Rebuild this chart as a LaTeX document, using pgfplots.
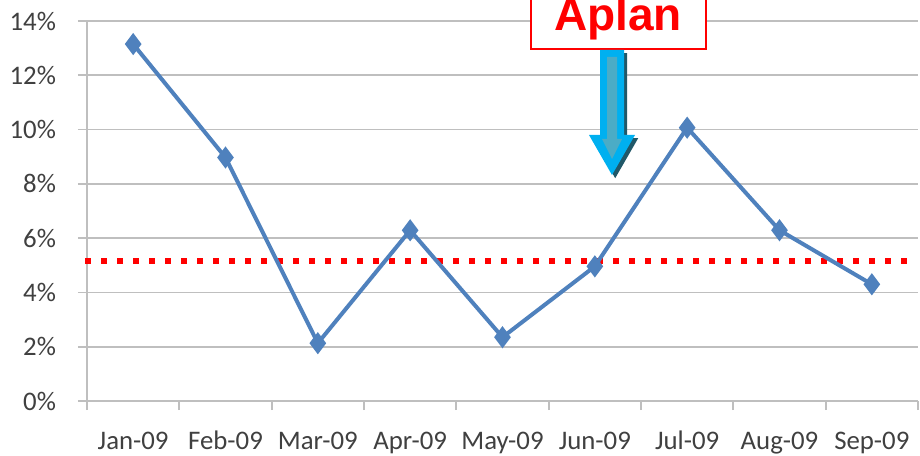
\documentclass[border=0pt]{standalone}
\usepackage{pgfplots}
\pgfplotsset{compat=1.18}
\usepackage{fontspec}
\setmainfont{Carlito}
\newfontfamily\arialfont{Liberation Sans}
\definecolor{serblue}{HTML}{4F81BD}
\definecolor{gridgray}{HTML}{BFBFBF}
\definecolor{labgray}{HTML}{404040}
\definecolor{arrcyan}{HTML}{00B0F0}
\definecolor{arrinner}{HTML}{4BACC6}
\definecolor{arrshadow}{HTML}{215868}
\begin{document}
\begin{tikzpicture}
\path[use as bounding box] (-43.5pt,-27pt) rectangle (416.5pt,200.5pt);
\clip (-43.5pt,-27pt) rectangle (416.5pt,200.5pt);
\begin{axis}[
  at={(0,0)}, anchor=south west,
  scale only axis, width=415.5pt, height=190pt,
  xmin=-0.5, xmax=8.5, ymin=0, ymax=14,
  axis lines*=left,
  axis line style={gridgray, line width=0.9pt},
  clip=false,
  xtick={0,...,8},
  xticklabels={Jan-09,Feb-09,Mar-09,Apr-09,May-09,Jun-09,Jul-09,Aug-09,Sep-09},
  major x tick style={draw=none},
  minor xtick={-0.5,0.5,...,8.5},
  minor x tick style={gridgray, line width=0.9pt},
  minor tick length=4.5pt,
  ytick={0,2,...,14},
  yticklabel={\pgfmathprintnumber{\tick}\%},
  major y tick style={gridgray, line width=0.9pt},
  major tick length=4.5pt,
  tick align=outside,
  ymajorgrids,
  major grid style={gridgray, line width=0.9pt},
  /pgf/number format/assume math mode=true,
  tick label style={font=\fontsize{13.4}{15}\selectfont, text=labgray},
  yticklabel style={xshift=-7.5pt},
  xticklabel style={anchor=base, yshift=-19.5pt},
]
\addplot[red, line width=3pt, dash pattern=on 3pt off 5pt] coordinates {(-0.52,5.15) (8.38,5.15)};
\addplot[serblue, line width=2pt, mark=diamond*, mark size=3.9pt, mark options={solid, fill=serblue}]
  coordinates {(0,13.15) (1,8.97) (2,2.13) (3,6.29) (4,2.35) (5,4.96) (6,10.07) (7,6.29) (8,4.3)};
\end{axis}
% Aplan label
\draw[red, line width=1pt, fill=white] (222pt,176pt) rectangle (309.5pt,210pt);
\node[anchor=base, text=red, font=\arialfont\bfseries\fontsize{23}{27}\selectfont, inner sep=0pt] at (265.5pt,185pt) {Aplan};
% arrow shadow
\fill[arrshadow, shift={(1.6pt,-1.6pt)}] (256.5pt,175.5pt) -- (268.5pt,175.5pt) -- (268.5pt,133pt) -- (274pt,133pt) -- (262.5pt,113pt) -- (251pt,133pt) -- (256.5pt,133pt) -- cycle;
\fill[arrcyan] (256.5pt,175.5pt) -- (268.5pt,175.5pt) -- (268.5pt,133pt) -- (274pt,133pt) -- (262.5pt,113pt) -- (251pt,133pt) -- (256.5pt,133pt) -- cycle;
\fill[arrinner] (260pt,172pt) -- (265pt,172pt) -- (265pt,131pt) -- (267.5pt,131pt) -- (262.5pt,121pt) -- (257.5pt,131pt) -- (260pt,131pt) -- cycle;
\end{tikzpicture}
\end{document}
